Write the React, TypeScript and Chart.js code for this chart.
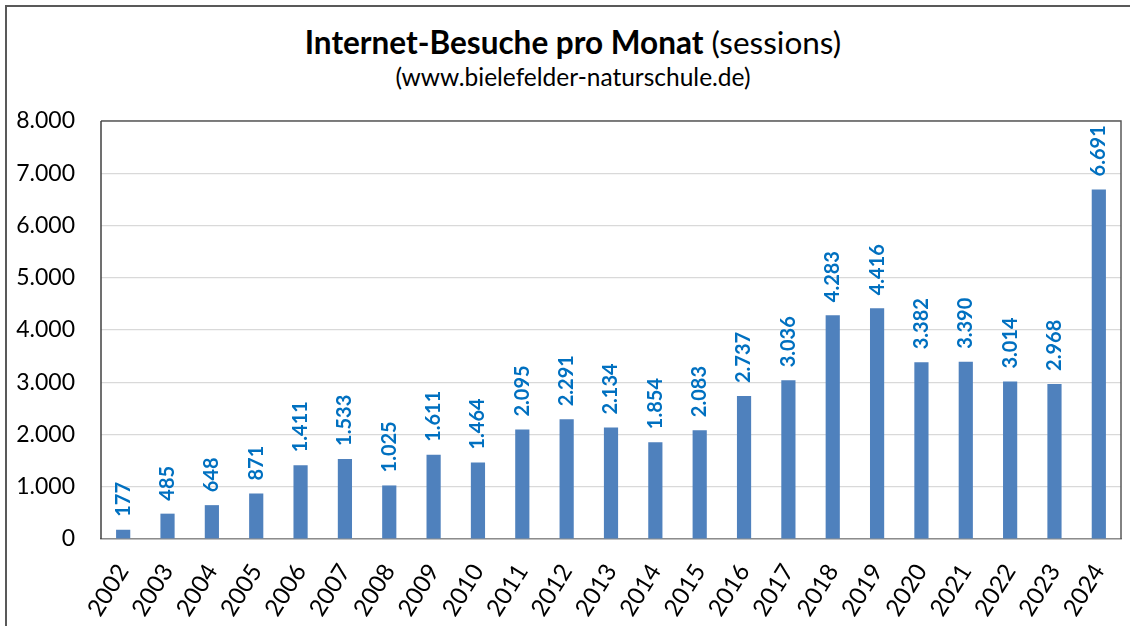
import React, { useEffect, useRef } from "react";
import { Chart, registerables } from "chart.js";

Chart.register(...registerables);

const years = ["2002","2003","2004","2005","2006","2007","2008","2009","2010","2011","2012","2013","2014","2015","2016","2017","2018","2019","2020","2021","2022","2023","2024"];
const sessions = [177,485,648,871,1411,1533,1025,1611,1464,2095,2291,2134,1854,2083,2737,3036,4283,4416,3382,3390,3014,2968,6691];
const yTicks = [0,1000,2000,3000,4000,5000,6000,7000,8000];

const FONT = "Lato, 'Open Sans', sans-serif";

function fmt(v: number): string {
  const s = Math.round(v).toString();
  return s.replace(/\B(?=(\d{3})+(?!\d))/g, ".");
}

const labelPlugin = {
  id: "barLabels",
  afterDatasetsDraw(chart: any) {
    const ctx = chart.ctx;
    const meta = chart.getDatasetMeta(0);
    ctx.save();
    ctx.fillStyle = "#0070C0";
    ctx.font = `bold 20px ${FONT}`;
    ctx.textAlign = "left";
    ctx.textBaseline = "middle";
    meta.data.forEach((bar: any, i: number) => {
      ctx.save();
      ctx.translate(bar.x, bar.y - 13);
      ctx.rotate(-Math.PI / 2);
      ctx.fillText(fmt(sessions[i]), 0, 0);
      ctx.restore();
    });
    ctx.restore();
  },
};

const framePlugin = {
  id: "frame",
  afterDraw(chart: any) {
    const { ctx, chartArea } = chart;
    ctx.save();
    ctx.strokeStyle = "#595959";
    ctx.lineWidth = 1.5;
    ctx.beginPath();
    ctx.moveTo(chartArea.left, chartArea.top);
    ctx.lineTo(chartArea.right, chartArea.top);
    ctx.lineTo(chartArea.right, chartArea.bottom);
    ctx.stroke();
    ctx.strokeStyle = "#404040";
    ctx.beginPath();
    ctx.moveTo(chartArea.left, chartArea.top);
    ctx.lineTo(chartArea.left, chartArea.bottom);
    ctx.stroke();
    ctx.restore();
  },
};

export default function App() {
  const ref = useRef<HTMLCanvasElement>(null);
  useEffect(() => {
    if (!ref.current) return;
    const chart = new Chart(ref.current, {
      type: "bar",
      data: {
        labels: years,
        datasets: [
          {
            data: sessions,
            backgroundColor: "#4F81BD",
            borderWidth: 0,
            barPercentage: 0.32,
            categoryPercentage: 1,
          },
        ],
      },
      options: {
        animation: false,
        responsive: false,
        maintainAspectRatio: false,
        layout: { padding: { top: 121, right: 9, left: 0, bottom: 0 } },
        plugins: { legend: { display: false }, tooltip: { enabled: false }, title: { display: false } },
        scales: {
          x: {
            grid: { display: false, drawTicks: false },
            border: { display: true, color: "#8c8c8c", width: 1.5 },
            ticks: {
              color: "#000",
              font: { family: FONT, size: 24 },
              maxRotation: 58,
              minRotation: 58,
              padding: 20,
              autoSkip: false,
            },
            afterFit(scale: any) {
              scale.height = 87;
              scale.paddingLeft = 0;
              scale.paddingRight = 0;
            },
          },
          y: {
            min: 0,
            max: 8000,
            afterBuildTicks(scale: any) { scale.ticks = yTicks.map((v) => ({ value: v })); },
            grid: { color: "#d9d9d9", lineWidth: 1.2, drawTicks: false },
            border: { display: false },
            ticks: {
              color: "#000",
              font: { family: FONT, size: 23 },
              padding: 26,
              callback: (v: any) => fmt(Number(v)),
            },
            afterFit(scale: any) {
              scale.width = 101;
              scale.paddingTop = 0;
              scale.paddingBottom = 0;
            },
          },
        },
      },
      plugins: [labelPlugin, framePlugin],
    });
    return () => chart.destroy();
  }, []);

  return (
    <div style={{ position: "absolute", left: 0, top: 0, width: 1130, height: 626, background: "#fff", overflow: "hidden" }}>
      <div style={{ position: "absolute", left: 5, top: 5, width: 1200, height: 700, borderTop: "2px solid #595959", borderLeft: "2px solid #595959" }} />
      <div style={{ position: "absolute", left: 0, top: 22, width: 1146, textAlign: "center", fontFamily: FONT, fontSize: 31.5, color: "#000", lineHeight: "40px" }}>
        <span style={{ fontWeight: 700 }}>Internet-Besuche pro Monat</span> (sessions)
      </div>
      <div style={{ position: "absolute", left: 0, top: 62, width: 1146, textAlign: "center", fontFamily: FONT, fontSize: 24.5, fontWeight: 400, color: "#000", lineHeight: "30px" }}>
        (www.bielefelder-naturschule.de)
      </div>
      <canvas ref={ref} width={1130} height={626} style={{ position: "absolute", left: 0, top: 0 }} />
    </div>
  );
}
